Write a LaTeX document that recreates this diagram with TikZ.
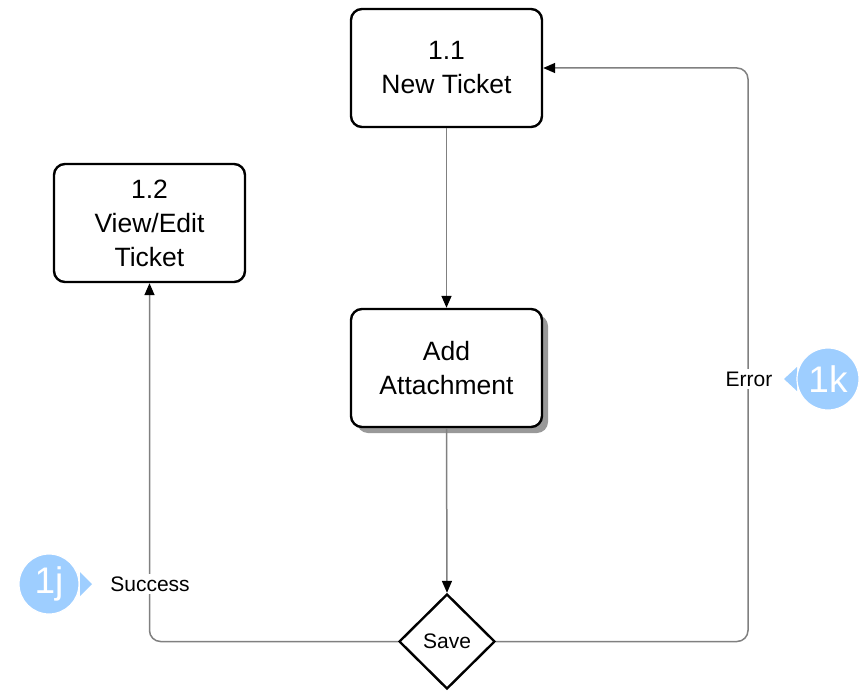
\documentclass[tikz,border=0pt]{standalone}
\usepackage{fontspec}
\setmainfont{Liberation Sans}
\usetikzlibrary{arrows.meta,shapes.geometric,shadows}
\definecolor{bubble}{RGB}{158,206,255}
\definecolor{conngray}{RGB}{128,128,128}
\tikzset{
  procbox/.style={draw=black,line width=2.4pt,rounded corners=11pt,fill=white,
    minimum width=191pt,minimum height=118pt,align=center,inner sep=0pt,
    font=\fontsize{26.5}{34}\selectfont},
  decbox/.style={draw=black,line width=2.4pt,diamond,fill=white,inner sep=0pt,
    minimum width=96pt,minimum height=95pt,font=\fontsize{21}{24}\selectfont},
  conn/.style={draw=conngray,line width=1.5pt,rounded corners=11pt,
    -{Triangle[length=12pt,width=10pt,color=black]}},
  lbl/.style={fill=white,inner sep=3pt,font=\fontsize{21}{24}\selectfont},
  bubbletxt/.style={text=white,font=\fontsize{37}{40}\selectfont,inner sep=0pt}
}
\begin{document}
\begin{tikzpicture}[x=1pt,y=-1pt]
\useasboundingbox (0,0) rectangle (868,693);
% nodes
\node[procbox] (new) at (446.5,68) {1.1\\New Ticket};
\node[procbox] (view) at (149.5,223) {1.2\\View/Edit\\Ticket};
\node[procbox,drop shadow={shadow xshift=6pt,shadow yshift=-6pt,fill=black!40,opacity=1}] (att) at (446.5,368) {Add\\Attachment};
\node[decbox] (save) at (447,641.5) {Save};
\coordinate (ec) at (748,68);
% connectors
\draw[conn] (new.south) -- (att.north);
\draw[conn] (att.south) -- (save.north);
\draw[conn] (save.west) -| (view.south);
\draw[conn] (save.east) -| (ec) -- (new.east);
% labels
\node[lbl] (succ) at (150,584) {Success};
\node[lbl] (err) at (749,379) {Error};
% bubbles
\coordinate (jt) at (92,584);
\coordinate (kt) at (784,379);
\fill[bubble] (80,572) -- (jt) -- (80,596) -- cycle;
\node[circle,fill=bubble,draw=white,line width=1.2pt,minimum size=60pt,inner sep=0pt] (bj) at (49,584) {};
\node[bubbletxt] (tj) at (bj.center) {1j};
\fill[bubble] (797,367) -- (kt) -- (797,391) -- cycle;
\node[circle,fill=bubble,draw=white,line width=1.2pt,minimum size=62pt,inner sep=0pt] (bk) at (828,379) {};
\node[bubbletxt] (tk) at (bk.center) {1k};
\end{tikzpicture}
\end{document}
